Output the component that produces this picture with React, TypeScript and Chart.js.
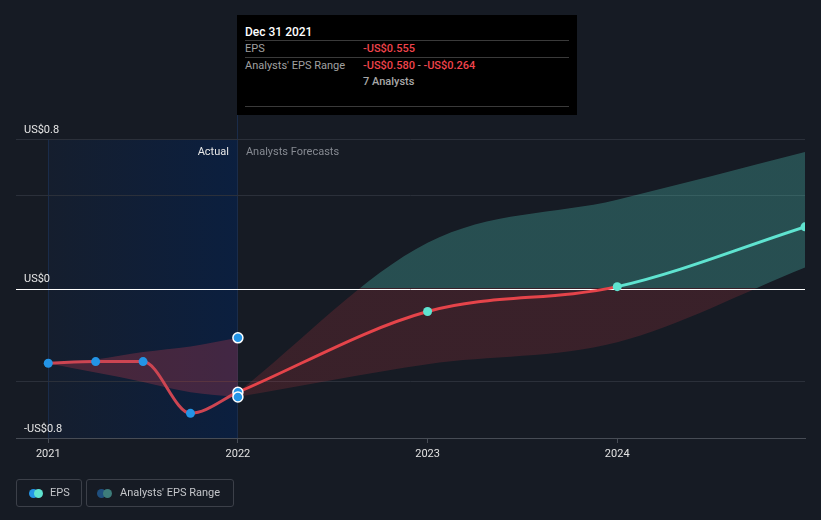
import React, { useEffect, useRef } from 'react';
import { Chart, registerables } from 'chart.js';

Chart.register(...registerables);

// ---- data ----
const actualDates = [2021.0, 2021.25, 2021.5, 2021.75, 2022.0];
const actualEps = [-0.4, -0.391, -0.391, -0.668, -0.555];
const actualRangeLow = [-0.4, -0.45, -0.5, -0.555, -0.58];
const actualRangeHigh = [-0.4, -0.38, -0.34, -0.31, -0.264];

const forecastDates = [2022.0, 2023.0, 2024.0, 2024.99];
const forecastEps = [-0.555, -0.123, 0.01, 0.33];
const forecastRangeLow = [-0.58, -0.405, -0.288, 0.112];
const forecastRangeHigh = [-0.555, 0.245, 0.475, 0.73];

const xTickValues = [2021, 2022, 2023, 2024];
const xTickLabels = ['2021', '2022', '2023', '2024'];
const yTickValues = [-0.8, -0.5, 0, 0.5, 0.8];
const yTickLabels = ['-US$0.8', '', 'US$0', '', 'US$0.8'];

const tooltipDate = 'Dec 31 2021';
const analystCount = 7;

// ---- styles ----
const BG = '#161b24';
const RED = '#e5444a';
const ACTUAL_RED = '#cc4552';
const TEAL = '#5fe3d0';
const BLUE = '#2394e6';
const FONT = 'Roboto, "Noto Sans", sans-serif';

const pts = (xs: number[], ys: number[]) => xs.map((x, i) => ({ x, y: ys[i] }));
const fmt = (v: number) => (v < 0 ? '-' : '') + 'US$' + Math.abs(v).toFixed(3);

const overlayPlugin = {
  id: 'overlay',
  beforeDraw(chart: any) {
    const { ctx, chartArea: a, scales } = chart;
    const x = scales.x;
    const x0 = x.getPixelForValue(actualDates[0]);
    const x1 = x.getPixelForValue(actualDates[actualDates.length - 1]);
    ctx.save();
    const g = ctx.createLinearGradient(x0, 0, x1, 0);
    g.addColorStop(0, 'rgba(21,30,46,1)');
    g.addColorStop(1, 'rgba(11,31,63,1)');
    ctx.fillStyle = g;
    ctx.fillRect(x0, a.top, x1 - x0, a.bottom - a.top);
    ctx.strokeStyle = '#1a2c4a';
    ctx.lineWidth = 1;
    ctx.beginPath();
    ctx.moveTo(Math.round(x0) + 0.5, a.top);
    ctx.lineTo(Math.round(x0) + 0.5, a.bottom);
    ctx.moveTo(Math.round(x1) - 0.5, 115);
    ctx.lineTo(Math.round(x1) - 0.5, a.bottom);
    ctx.stroke();
    ctx.restore();
  },
  afterDatasetDraw(chart: any, args: any) {
    const ds = chart.data.datasets[args.index];
    if (!ds || !ds.zeroAfter) return;
    const { ctx, chartArea: a, scales } = chart;
    const y0 = Math.round(scales.y.getPixelForValue(0)) + 0.5;
    ctx.save();
    ctx.strokeStyle = '#ffffff';
    ctx.lineWidth = 1;
    ctx.beginPath();
    ctx.moveTo(a.left, y0);
    ctx.lineTo(a.right, y0);
    ctx.stroke();
    ctx.restore();
  },
  afterDraw(chart: any) {
    const { ctx, chartArea: a, scales } = chart;
    const x1 = scales.x.getPixelForValue(actualDates[actualDates.length - 1]);
    ctx.save();
    ctx.font = '11px ' + FONT;
    ctx.textBaseline = 'middle';
    ctx.fillStyle = '#e8e8e8';
    ctx.textAlign = 'right';
    ctx.fillText('Actual', x1 - 9, a.top + 13);
    ctx.fillStyle = '#868a92';
    ctx.textAlign = 'left';
    ctx.fillText('Analysts Forecasts', x1 + 8, a.top + 13);
    ctx.restore();
  },
};

function splitFill(green: string, red: string) {
  return (c: any) => {
    const chart = c.chart;
    const area = chart.chartArea;
    if (!area || !chart.scales.y) return red;
    const y0 = chart.scales.y.getPixelForValue(0);
    const g = chart.ctx.createLinearGradient(0, area.top, 0, area.bottom);
    const s = Math.min(1, Math.max(0, (y0 - area.top) / (area.bottom - area.top)));
    g.addColorStop(0, green);
    g.addColorStop(s, green);
    g.addColorStop(s, red);
    g.addColorStop(1, red);
    return g;
  };
}

export default function App() {
  const ref = useRef<HTMLCanvasElement | null>(null);

  useEffect(() => {
    if (!ref.current) return;
    const lastA = actualDates.length - 1;
    const chart = new Chart(ref.current, {
      type: 'line',
      data: {
        datasets: [
          {
            label: 'EPS',
            data: pts(actualDates, actualEps),
            borderColor: ACTUAL_RED,
            borderWidth: 3,
            cubicInterpolationMode: 'monotone',
            fill: false,
            pointRadius: (c: any) => (c.dataIndex === lastA ? 5 : 4.5),
            pointBackgroundColor: BLUE,
            pointBorderColor: (c: any) => (c.dataIndex === lastA ? '#ffffff' : BLUE),
            pointBorderWidth: (c: any) => (c.dataIndex === lastA ? 1.5 : 0),
            order: 2,
          },
          {
            label: 'EPS forecast',
            data: pts(forecastDates, forecastEps),
            borderColor: RED,
            borderWidth: 3,
            cubicInterpolationMode: 'monotone',
            fill: false,
            segment: {
              borderColor: (c: any) => (c.p0.parsed.y >= 0 ? TEAL : RED),
            },
            pointRadius: (c: any) => (c.dataIndex === 0 ? 0 : 4.5),
            pointBackgroundColor: TEAL,
            pointBorderWidth: 0,
            order: 3,
          },
          {
            label: 'Actual range low',
            data: pts(actualDates, actualRangeLow),
            borderWidth: 0,
            borderColor: 'rgba(0,0,0,0)',
            cubicInterpolationMode: 'monotone',
            fill: false,
            pointRadius: (c: any) => (c.dataIndex === lastA ? 5 : 0),
            pointBackgroundColor: BLUE,
            pointBorderColor: '#ffffff',
            pointBorderWidth: 1.5,
            order: 1,
          },
          {
            label: 'Actual range high',
            data: pts(actualDates, actualRangeHigh),
            borderWidth: 0,
            borderColor: 'rgba(0,0,0,0)',
            cubicInterpolationMode: 'monotone',
            fill: '-1',
            backgroundColor: 'rgba(214,64,80,0.27)',
            pointRadius: (c: any) => (c.dataIndex === lastA ? 5 : 0),
            pointBackgroundColor: BLUE,
            pointBorderColor: '#ffffff',
            pointBorderWidth: 1.5,
            order: 8,
          },
          {
            label: 'Forecast range low',
            data: pts(forecastDates, forecastRangeLow),
            borderWidth: 0,
            borderColor: 'rgba(0,0,0,0)',
            cubicInterpolationMode: 'monotone',
            fill: false,
            pointRadius: 0,
            order: 7,
          },
          {
            label: 'Forecast range high',
            data: pts(forecastDates, forecastRangeHigh),
            borderWidth: 0,
            borderColor: 'rgba(0,0,0,0)',
            cubicInterpolationMode: 'monotone',
            fill: '-1',
            backgroundColor: splitFill('rgba(80,200,185,0.3)', 'rgba(220,60,70,0.18)'),
            pointRadius: 0,
            order: 6,
            zeroAfter: true,
          } as any,
        ],
      },
      options: {
        responsive: false,
        animation: false,
        devicePixelRatio: 1,
        events: [],
        layout: { padding: { left: 8, right: 16, top: 139, bottom: 52 } },
        plugins: {
          legend: { display: false },
          tooltip: { enabled: false },
        },
        scales: {
          x: {
            type: 'linear',
            min: 2020.83,
            max: 2024.99,
            afterBuildTicks: (s: any) => {
              s.ticks = xTickValues.map((v) => ({ value: v }));
            },
            afterFit: (s: any) => {
              s.height = 30;
            },
            ticks: {
              callback: (v: any) => xTickLabels[xTickValues.indexOf(Number(v))] ?? '',
              color: '#e2e2e2',
              font: { family: FONT, size: 11 },
              padding: 5,
              maxRotation: 0,
              autoSkip: false,
            },
            grid: {
              drawOnChartArea: false,
              drawTicks: true,
              tickLength: 5,
              color: '#474c55',
            },
            border: { display: true, color: '#474c55' },
          },
          y: {
            type: 'linear',
            min: -0.8,
            max: 0.8,
            afterBuildTicks: (s: any) => {
              s.ticks = yTickValues.map((v) => ({ value: v }));
            },
            afterFit: (s: any) => {
              s.width = 8;
            },
            ticks: {
              mirror: true,
              padding: 8,
              labelOffset: -9,
              callback: (v: any) => {
                const i = yTickValues.findIndex((t) => Math.abs(t - Number(v)) < 1e-9);
                return i >= 0 ? yTickLabels[i] : '';
              },
              color: '#e6e6e6',
              font: { family: FONT, size: 11 },
              autoSkip: false,
            },
            grid: {
              drawTicks: false,
              color: (c: any) => {
                const v = c.tick ? c.tick.value : 1;
                if (Math.abs(v) < 1e-9) return 'rgba(0,0,0,0)';
                if (v <= -0.8 + 1e-9) return 'rgba(0,0,0,0)';
                return '#2b303a';
              },
            },
            border: { display: false },
          },
        },
      } as any,
      plugins: [overlayPlugin],
    });
    return () => chart.destroy();
  }, []);

  const lastA = actualDates.length - 1;
  const rowLabel: React.CSSProperties = {
    position: 'absolute',
    left: 8,
    fontSize: 11,
    lineHeight: '14px',
    color: '#a0a0a0',
    whiteSpace: 'nowrap',
  };
  const rowValue: React.CSSProperties = {
    position: 'absolute',
    left: 126,
    fontSize: 11,
    lineHeight: '14px',
    color: '#f0444c',
    fontWeight: 500,
    whiteSpace: 'nowrap',
  };
  const sep = (top: number): React.CSSProperties => ({
    position: 'absolute',
    left: 8,
    right: 8,
    top,
    height: 1,
    background: '#3a3a3a',
  });
  const legendBox: React.CSSProperties = {
    position: 'absolute',
    top: 479,
    height: 26,
    border: '1px solid #3c4049',
    borderRadius: 3,
    boxSizing: 'content-box',
  };
  const dot = (left: number, color: string): React.CSSProperties => ({
    position: 'absolute',
    left,
    top: 9,
    width: 9,
    height: 9,
    borderRadius: '50%',
    background: color,
  });
  const legendText: React.CSSProperties = {
    position: 'absolute',
    top: 6,
    fontSize: 11,
    lineHeight: '14px',
    color: '#c4c6ca',
    whiteSpace: 'nowrap',
  };

  return (
    <div
      style={{
        position: 'fixed',
        left: 0,
        top: 0,
        width: 821,
        height: 520,
        background: BG,
        fontFamily: FONT,
        overflow: 'hidden',
      }}
    >
      <canvas ref={ref} width={821} height={520} style={{ position: 'absolute', left: 0, top: 0, width: 821, height: 520 }} />

      {/* tooltip */}
      <div style={{ position: 'absolute', left: 237, top: 15, width: 340, height: 100, background: '#000000' }}>
        <div style={{ position: 'absolute', left: 8, top: 10, fontSize: 12, lineHeight: '14px', color: '#ffffff', fontWeight: 500 }}>
          {tooltipDate}
        </div>
        <div style={sep(25)} />
        <div style={{ ...rowLabel, top: 27 }}>EPS</div>
        <div style={{ ...rowValue, top: 27 }}>{fmt(actualEps[lastA])}</div>
        <div style={sep(42)} />
        <div style={{ ...rowLabel, top: 44 }}>Analysts' EPS Range</div>
        <div style={{ ...rowValue, top: 44 }}>
          {fmt(actualRangeLow[lastA])}
          <span style={{ color: '#a0a0a0', fontWeight: 400 }}> - </span>
          {fmt(actualRangeHigh[lastA])}
        </div>
        <div style={{ ...rowValue, top: 60, color: '#a8a8a8' }}>{analystCount} Analysts</div>
        <div style={sep(91)} />
      </div>

      {/* legend */}
      <div style={{ ...legendBox, left: 16, width: 64 }}>
        <div style={dot(12, BLUE)} />
        <div style={dot(17, TEAL)} />
        <div style={{ ...legendText, left: 33 }}>EPS</div>
      </div>
      <div style={{ ...legendBox, left: 86, width: 146 }}>
        <div style={dot(10, '#1f4f7e')} />
        <div style={dot(16, '#3d7c7a')} />
        <div style={{ ...legendText, left: 33 }}>Analysts' EPS Range</div>
      </div>
    </div>
  );
}
